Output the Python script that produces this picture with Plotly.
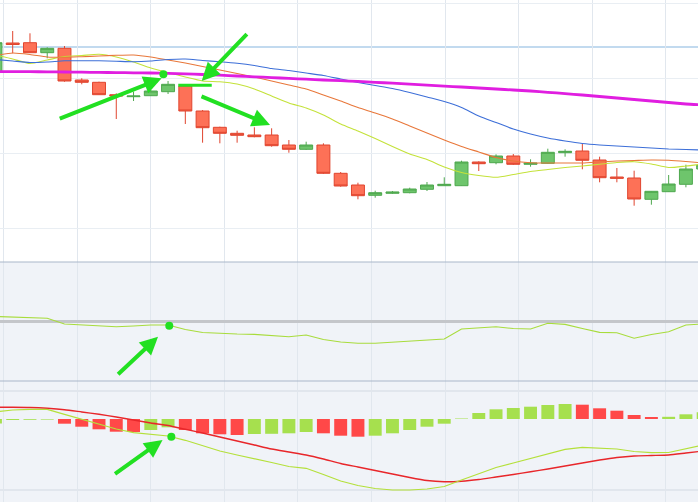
import plotly.graph_objects as go

# ---------------- data ----------------
bars = list(range(0, 42))

opens = [1.11903, 1.12190, 1.12193, 1.12093, 1.12137, 1.11820, 1.11797, 1.11673, 1.11653, 1.11663,
         1.11703, 1.11760, 1.11510, 1.11347, 1.11287, 1.11270, 1.11270, 1.11170, 1.11127, 1.11170,
         1.10887, 1.10770, 1.10667, 1.10687, 1.10693, 1.10727, 1.10763, 1.10763, 1.11000, 1.10993,
         1.11060, 1.10977, 1.10987, 1.11093, 1.11110, 1.11020, 1.10850, 1.10840, 1.10627, 1.10703,
         1.10777, 1.10930]
highs = [1.12240, 1.12310, 1.12287, 1.12147, 1.12160, 1.11837, 1.11803, 1.11687, 1.11703, 1.11720,
         1.11810, 1.11765, 1.11520, 1.11353, 1.11313, 1.11347, 1.11337, 1.11220, 1.11203, 1.11187,
         1.10900, 1.10793, 1.10713, 1.10710, 1.10743, 1.10800, 1.10847, 1.11013, 1.11007, 1.11077,
         1.11080, 1.11027, 1.11133, 1.11127, 1.11187, 1.11053, 1.10940, 1.10913, 1.10710, 1.10870,
         1.10973, 1.11000]
lows = [1.11870, 1.12087, 1.12090, 1.12037, 1.11803, 1.11777, 1.11670, 1.11430, 1.11610, 1.11660,
        1.11680, 1.11380, 1.11193, 1.11187, 1.11193, 1.11247, 1.11153, 1.11093, 1.11120, 1.10880,
        1.10753, 1.10627, 1.10643, 1.10680, 1.10687, 1.10710, 1.10760, 1.10760, 1.10910, 1.10977,
        1.10970, 1.10953, 1.10985, 1.11053, 1.10927, 1.10797, 1.10797, 1.10563, 1.10573, 1.10700,
        1.10747, 1.10910]
closes = [1.12193, 1.12175, 1.12093, 1.12137, 1.11810, 1.11797, 1.11673, 1.11660, 1.11660, 1.11710,
          1.11777, 1.11510, 1.11343, 1.11287, 1.11267, 1.11253, 1.11163, 1.11127, 1.11170, 1.10887,
          1.10760, 1.10663, 1.10693, 1.10700, 1.10730, 1.10770, 1.10777, 1.11000, 1.10983, 1.11060,
          1.10977, 1.10990, 1.11097, 1.11107, 1.11017, 1.10843, 1.10837, 1.10630, 1.10707, 1.10780,
          1.10930, 1.10970]

ma_fast = [1.12070, 1.12030, 1.11985, 1.12020, 1.12055, 1.12065, 1.12077, 1.12050, 1.12000, 1.11940,
           1.11895, 1.11850, 1.11810, 1.11803, 1.11780, 1.11730, 1.11660, 1.11590, 1.11540, 1.11470,
           1.11380, 1.11310, 1.11235, 1.11155, 1.11080, 1.11025, 1.10950, 1.10895, 1.10865, 1.10847,
           1.10875, 1.10905, 1.10925, 1.10945, 1.10960, 1.10977, 1.10995, 1.11003, 1.10980, 1.10945,
           1.10960, 1.10980]
ma_mid = [1.12065, 1.12090, 1.12075, 1.12050, 1.12047, 1.12053, 1.12060, 1.12067, 1.12070, 1.12050,
          1.12020, 1.11990, 1.11955, 1.11920, 1.11885, 1.11850, 1.11810, 1.11770, 1.11730, 1.11670,
          1.11610, 1.11545, 1.11490, 1.11430, 1.11360, 1.11290, 1.11220, 1.11155, 1.11100, 1.11045,
          1.11010, 1.10993, 1.10990, 1.10990, 1.10990, 1.11000, 1.11010, 1.11015, 1.11020, 1.11017,
          1.11005, 1.10990]
ma_slow = [1.12025, 1.12010, 1.11995, 1.12000, 1.12012, 1.12013, 1.12013, 1.12008, 1.12003, 1.12010,
           1.12025, 1.12030, 1.12015, 1.12002, 1.11987, 1.11965, 1.11935, 1.11915, 1.11890, 1.11865,
           1.11830, 1.11795, 1.11765, 1.11735, 1.11695, 1.11650, 1.11605, 1.11545, 1.11460, 1.11395,
           1.11330, 1.11280, 1.11240, 1.11210, 1.11185, 1.11170, 1.11160, 1.11150, 1.11140, 1.11130,
           1.11125, 1.11120]
ma_long = [1.11905, 1.11904, 1.11903, 1.11902, 1.11900, 1.11898, 1.11896, 1.11894, 1.11892, 1.11890,
           1.11887, 1.11882, 1.11875, 1.11868, 1.11860, 1.11852, 1.11844, 1.11836, 1.11828, 1.11820,
           1.11813, 1.11806, 1.11797, 1.11788, 1.11778, 1.11768, 1.11759, 1.11750, 1.11740, 1.11730,
           1.11720, 1.11710, 1.11697, 1.11684, 1.11670, 1.11655, 1.11640, 1.11625, 1.11610, 1.11595,
           1.11580, 1.11570]
level_price = 1.1215

rsi = [54.2, 53.8, 53.2, 52.7, 47.9, 47.1, 46.2, 45.6, 46.2, 47.1,
       47.1, 43.3, 40.8, 39.9, 39.5, 39.2, 38.2, 37.2, 38.7, 34.9,
       32.8, 31.7, 31.7, 32.5, 33.6, 34.7, 35.3, 43.7, 44.5, 45.6,
       44.1, 43.7, 48.5, 47.6, 44.1, 40.9, 40.6, 35.9, 39.1, 41.4,
       47.1, 47.9]
rsi_level = 50

macd = [0.70, 0.90, 0.97, 0.97, 0.47, 0.00, -0.50, -1.00, -1.37, -1.53,
        -1.70, -2.13, -2.65, -3.20, -3.60, -3.95, -4.35, -4.75, -4.93, -5.55,
        -6.20, -6.65, -6.95, -7.10, -7.10, -7.00, -6.75, -6.10, -5.45, -4.85,
        -4.40, -3.93, -3.45, -3.03, -2.83, -2.88, -3.00, -3.25, -3.37, -3.35,
        -2.95, -2.60]
signal = [1.17, 1.17, 1.15, 1.07, 0.93, 0.70, 0.47, 0.20, -0.10, -0.40,
          -0.65, -1.03, -1.40, -1.80, -2.20, -2.60, -3.00, -3.30, -3.60, -4.00,
          -4.45, -4.80, -5.15, -5.50, -5.85, -6.15, -6.27, -6.22, -6.05, -5.80,
          -5.55, -5.27, -5.00, -4.70, -4.40, -4.10, -3.85, -3.70, -3.65, -3.60,
          -3.40, -3.20]
hist = [-0.45, -0.10, -0.08, -0.06, -0.47, -0.77, -1.03, -1.27, -1.30, -1.10,
        -0.83, -1.10, -1.43, -1.53, -1.60, -1.50, -1.48, -1.43, -1.30, -1.43,
        -1.67, -1.77, -1.67, -1.43, -1.10, -0.77, -0.47, 0.05, 0.60, 0.97,
        1.10, 1.23, 1.40, 1.50, 1.43, 1.07, 0.83, 0.40, 0.20, 0.22,
        0.47, 0.67]

# annotation marks (arrows: tail x, tail y, head x, head y)
price_arrows = [(3.64, 1.11427, 9.63, 1.11837),
                (14.65, 1.12293, 11.95, 1.11810),
                (11.85, 1.11663, 15.91, 1.11370)]
price_dash = (10.59, 12.53, 1.11767)
price_dot = (9.73, 1.11877)
rsi_arrow = (7.02, 4.5, 9.42, 37.2)
rsi_dot = (10.07, 46.4)
macd_arrow = (6.84, -5.6, 9.68, -2.1)
macd_dot = (10.19, -1.77)

# ---------------- styling ----------------
GREEN_ARROW = "#22e022"
UP_LINE, UP_FILL = "#4ea84e", "#6ec56c"
DN_LINE, DN_FILL = "#e0452f", "#fd7157"
HIST_UP, HIST_DN = "#a6e04e", "#ff4848"

fig = go.Figure()

fig.add_trace(go.Candlestick(
    x=bars, open=opens, high=highs, low=lows, close=closes,
    increasing=dict(line=dict(color=UP_LINE, width=1), fillcolor=UP_FILL),
    decreasing=dict(line=dict(color=DN_LINE, width=1), fillcolor=DN_FILL),
    whiskerwidth=0, showlegend=False, hoverinfo="skip",
    xaxis="x", yaxis="y"))

for vals, col, w in [(ma_fast, "#c4e23a", 1.1), (ma_mid, "#e8773a", 1.1),
                     (ma_slow, "#3d6fd8", 1.1), (ma_long, "#e01ee0", 2.8)]:
    fig.add_trace(go.Scatter(x=bars, y=vals, mode="lines",
                             line=dict(color=col, width=w, shape="spline", smoothing=0.6),
                             showlegend=False, hoverinfo="skip", xaxis="x", yaxis="y"))

fig.add_trace(go.Scatter(x=bars, y=rsi, mode="lines",
                         line=dict(color="#a8dc3c", width=1.1),
                         showlegend=False, hoverinfo="skip", xaxis="x", yaxis="y2"))

hist_colors = [HIST_UP if i == 0 or hist[i] >= hist[i - 1] else HIST_DN for i in range(len(hist))]
fig.add_trace(go.Bar(x=bars, y=hist, marker=dict(color=hist_colors, line=dict(width=0)),
                     width=0.75, showlegend=False, hoverinfo="skip", xaxis="x", yaxis="y3"))
fig.add_trace(go.Scatter(x=bars, y=signal, mode="lines",
                         line=dict(color="#e8262a", width=1.4, shape="spline", smoothing=0.6),
                         showlegend=False, hoverinfo="skip", xaxis="x", yaxis="y3"))
fig.add_trace(go.Scatter(x=bars, y=macd, mode="lines",
                         line=dict(color="#b4e03a", width=1.2),
                         showlegend=False, hoverinfo="skip", xaxis="x", yaxis="y3"))

# annotation dots
for (dx, dy), ya in [(price_dot, "y"), (rsi_dot, "y2"), (macd_dot, "y3")]:
    fig.add_trace(go.Scatter(x=[dx], y=[dy], mode="markers",
                             marker=dict(color=GREEN_ARROW, size=8),
                             showlegend=False, hoverinfo="skip", xaxis="x", yaxis=ya))

annotations = []
def add_arrow(a, yref):
    tx, ty, hx, hy = a
    annotations.append(dict(x=hx, y=hy, ax=tx, ay=ty, xref="x", yref=yref,
                            axref="x", ayref=yref, text="", showarrow=True,
                            arrowhead=2, arrowsize=0.9, arrowwidth=4,
                            arrowcolor=GREEN_ARROW, standoff=0))
for a in price_arrows:
    add_arrow(a, "y")
add_arrow(rsi_arrow, "y2")
add_arrow(macd_arrow, "y3")

top_split = 1 - 262 / 502
mid_split = 1 - 381 / 502

shapes = [
    dict(type="rect", xref="paper", yref="paper", x0=0, x1=1, y0=0, y1=top_split,
         fillcolor="#f0f3f8", line=dict(width=0), layer="below"),
    dict(type="line", xref="paper", yref="paper", x0=0, x1=1, y0=top_split, y1=top_split,
         line=dict(color="#a9b7c9", width=1.2)),
    dict(type="line", xref="paper", yref="paper", x0=0, x1=1, y0=mid_split, y1=mid_split,
         line=dict(color="#a9b7c9", width=1.2)),
    dict(type="line", xref="paper", yref="y", x0=0, x1=1, y0=level_price, y1=level_price,
         line=dict(color="#86b6e0", width=1.2), layer="below"),
    dict(type="line", xref="x", yref="y", x0=price_dash[0], x1=price_dash[1],
         y0=price_dash[2], y1=price_dash[2], line=dict(color=GREEN_ARROW, width=3)),
]

fig.update_layout(
    width=698, height=502, autosize=False,
    margin=dict(l=0, r=0, t=0, b=0, pad=0),
    paper_bgcolor="white", plot_bgcolor="rgba(0,0,0,0)",
    boxgap=0.25, boxgroupgap=0, bargap=0.25,
    showlegend=False,
    xaxis=dict(domain=[0, 1], range=[0.264, 40.70], showticklabels=False, ticks="",
               showgrid=True, gridcolor="#e1e7ee", gridwidth=1, tick0=0.46, dtick=4.265,
               zeroline=False, showline=False, rangeslider=dict(visible=False), anchor="y3"),
    yaxis=dict(domain=[top_split, 1], range=[1.1000, 1.1262], showticklabels=False, ticks="",
               showgrid=True, gridcolor="#e9eef3", tick0=1.1034, dtick=0.0075,
               zeroline=False, showline=False),
    yaxis2=dict(domain=[mid_split, top_split], range=[0, 100], showticklabels=False, ticks="",
                showgrid=True, tickvals=[rsi_level], gridcolor="#c4c6ca", gridwidth=2.5,
                zeroline=False, showline=False),
    yaxis3=dict(domain=[0, mid_split], range=[-8.3, 3.8], showticklabels=False, ticks="",
                showgrid=True, tickvals=[2.8, -7.1], gridcolor="#e1e6ed", gridwidth=1.5,
                zeroline=False, showline=False),
    shapes=shapes,
    annotations=annotations,
)

fig.write_html("out.html",
               config={"displayModeBar": False, "staticPlot": True},
               post_script="document.body.style.margin='0px';document.body.style.padding='0px';")
